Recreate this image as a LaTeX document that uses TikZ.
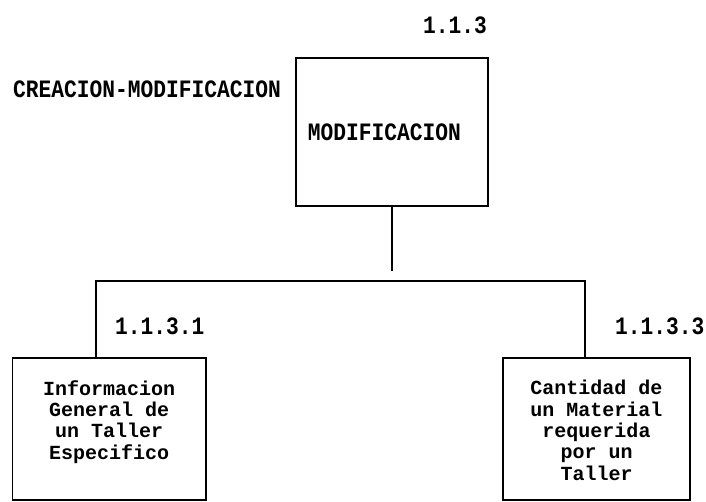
\documentclass[tikz,border=0pt]{standalone}
\usepackage{fontspec}
\newfontfamily\titulo[FakeStretch=0.85]{Liberation Mono}
\newfontfamily\cuerpo{Liberation Mono}
\usetikzlibrary{positioning,calc}

\begin{document}
\begin{tikzpicture}[
            x=1pt, y=1pt,
            node distance = 20pt and 20pt,
            caja/.style = {rectangle, draw, line width=1.4pt, inner sep=0pt},
            rotulo/.style = {font=\titulo\bfseries\fontsize{25}{25}\selectfont, inner sep=0pt},
            texto/.style = {font=\cuerpo\bfseries\fontsize{20}{21.3}\selectfont, inner sep=0pt, align=center},
            enlace/.style = {line width=1.8pt}
        ]
        \useasboundingbox (0,0) rectangle (706,501);

        % Nodo principal
        \node [caja, minimum width=192pt, minimum height=148pt] (modif) at (392,369) {};
        \node [rotulo] (modiftxt) at ($(modif.center)+(-7.5,0)$) {MODIFICACION};
        \node [rotulo, anchor=east] (modifnum) at (487,476) {1.1.3};
        \node [rotulo, anchor=west] (padre) at (13,412) {CREACION-MODIFICACION};

        % Nodos hijos
        \node [caja, minimum width=193.5pt, minimum height=142pt] (info) at (109.25,72) {};
        \node [texto, below=23pt of info.north] (infotxt) {Informacion\\General de\\un Taller\\Especifico};
        \node [rotulo, anchor=west] (infonum) at (115,175) {1.1.3.1};

        \node [caja, minimum width=187pt, minimum height=142pt] (cant) at (596.5,72) {};
        \node [texto, below=23pt of cant.north] (canttxt) {Cantidad de\\un Material\\requerida\\por un\\Taller};
        \node [rotulo, anchor=west] (cantnum) at (615,175) {1.1.3.3};

        % Lineas de union
        \coordinate (fin) at (modif.south |- 0,230);
        \coordinate (bus) at (modif.south |- 0,220);
        \draw [enlace] (modif.south) -- (fin);
        \draw [enlace] ([xshift=-13pt]info.north) |- (bus) -| ([xshift=-11.5pt]cant.north);

    \end{tikzpicture}
\end{document}
